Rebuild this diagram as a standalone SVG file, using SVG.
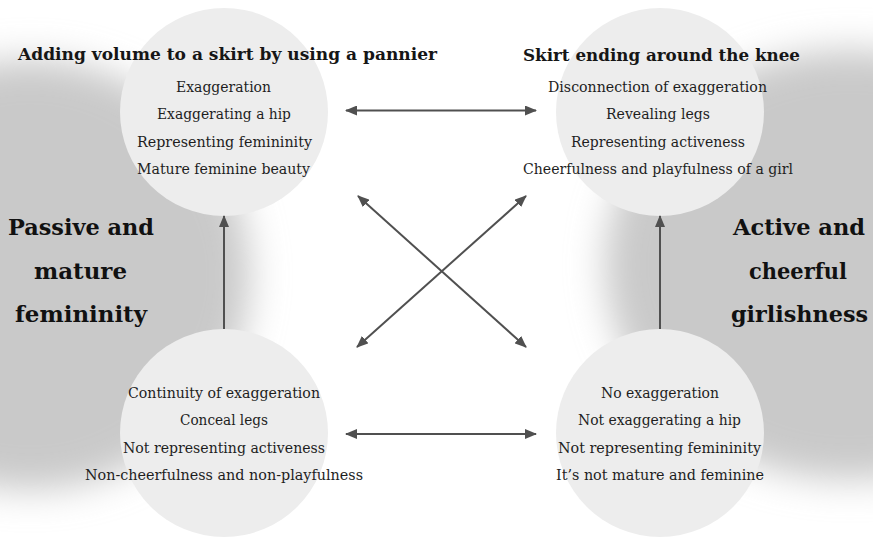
<svg xmlns="http://www.w3.org/2000/svg" width="873" height="537" viewBox="0 0 873 537">
<defs>
<filter id="soft" x="-50%" y="-50%" width="200%" height="200%"><feGaussianBlur stdDeviation="18"/></filter>
<marker id="ah" viewBox="0 0 12 10" refX="11" refY="5" markerWidth="12" markerHeight="10" markerUnits="userSpaceOnUse" orient="auto-start-reverse"><path d="M0,0 L12,5 L0,10 z" fill="#505050"/></marker>
<style>
.c{fill:#ededed}
.t{font-family:"DejaVu Serif","Liberation Serif",serif;font-size:15px;fill:#1e1e1e;text-anchor:middle}
.h{font-family:"DejaVu Serif","Liberation Serif",serif;font-size:16px;font-weight:bold;fill:#161616;text-anchor:middle}
.s{font-family:"DejaVu Serif","Liberation Serif",serif;font-size:23px;font-weight:bold;fill:#111;text-anchor:middle}
.a{stroke:#505050;stroke-width:2;fill:none}
</style>
</defs>
<rect width="873" height="537" fill="#ffffff"/>
<g id="bg">
<ellipse cx="30" cy="275" rx="220" ry="215" fill="#c9c9c9" filter="url(#soft)"/>
<ellipse cx="850" cy="265" rx="245" ry="215" fill="#c9c9c9" filter="url(#soft)"/>
</g>
<g id="label-left">
<text class="s" x="81" y="235" textLength="146" lengthAdjust="spacingAndGlyphs">Passive and</text>
<text class="s" x="80.5" y="279" textLength="93" lengthAdjust="spacingAndGlyphs">mature</text>
<text class="s" x="81" y="322" textLength="132" lengthAdjust="spacingAndGlyphs">femininity</text>
</g>
<g id="label-right">
<text class="s" x="799" y="235" textLength="132" lengthAdjust="spacingAndGlyphs">Active and</text>
<text class="s" x="798" y="279" textLength="98" lengthAdjust="spacingAndGlyphs">cheerful</text>
<text class="s" x="799.5" y="322" textLength="137" lengthAdjust="spacingAndGlyphs">girlishness</text>
</g>
<g id="node-tl">
<circle class="c" cx="224" cy="112" r="104"/>
<text class="h" x="227.5" y="60" textLength="419" lengthAdjust="spacingAndGlyphs">Adding volume to a skirt by using a pannier</text>
<text class="t" x="223.5" y="92" textLength="95" lengthAdjust="spacingAndGlyphs">Exaggeration</text>
<text class="t" x="224" y="119.3" textLength="134" lengthAdjust="spacingAndGlyphs">Exaggerating a hip</text>
<text class="t" x="224.5" y="146.6" textLength="175" lengthAdjust="spacingAndGlyphs">Representing femininity</text>
<text class="t" x="223.5" y="174" textLength="173" lengthAdjust="spacingAndGlyphs">Mature feminine beauty</text>
</g>
<g id="node-tr">
<circle class="c" cx="660" cy="112" r="104"/>
<text class="h" x="661.5" y="61" textLength="277" lengthAdjust="spacingAndGlyphs">Skirt ending around the knee</text>
<text class="t" x="657.5" y="92" textLength="219" lengthAdjust="spacingAndGlyphs">Disconnection of exaggeration</text>
<text class="t" x="658" y="119.3" textLength="104" lengthAdjust="spacingAndGlyphs">Revealing legs</text>
<text class="t" x="658" y="146.6" textLength="174" lengthAdjust="spacingAndGlyphs">Representing activeness</text>
<text class="t" x="658" y="174" textLength="270" lengthAdjust="spacingAndGlyphs">Cheerfulness and playfulness of a girl</text>
</g>
<g id="node-bl">
<circle class="c" cx="224" cy="433" r="104"/>
<text class="t" x="224" y="398" textLength="192" lengthAdjust="spacingAndGlyphs">Continuity of exaggeration</text>
<text class="t" x="224" y="425.3" textLength="88" lengthAdjust="spacingAndGlyphs">Conceal legs</text>
<text class="t" x="224" y="452.6" textLength="202" lengthAdjust="spacingAndGlyphs">Not representing activeness</text>
<text class="t" x="224" y="480" textLength="278" lengthAdjust="spacingAndGlyphs">Non-cheerfulness and non-playfulness</text>
</g>
<g id="node-br">
<circle class="c" cx="660" cy="433" r="104"/>
<text class="t" x="660" y="398" textLength="118" lengthAdjust="spacingAndGlyphs">No exaggeration</text>
<text class="t" x="659.5" y="425.3" textLength="163" lengthAdjust="spacingAndGlyphs">Not exaggerating a hip</text>
<text class="t" x="659.5" y="452.6" textLength="203" lengthAdjust="spacingAndGlyphs">Not representing femininity</text>
<text class="t" x="660" y="480" textLength="208" lengthAdjust="spacingAndGlyphs">It’s not mature and feminine</text>
</g>
<g id="connectors">
<line class="a" x1="346" y1="110.5" x2="536" y2="110.5" marker-start="url(#ah)" marker-end="url(#ah)"/>
<line class="a" x1="346" y1="434" x2="536" y2="434" marker-start="url(#ah)" marker-end="url(#ah)"/>
<line class="a" x1="224" y1="329" x2="224" y2="216" marker-end="url(#ah)"/>
<line class="a" x1="660" y1="329" x2="660" y2="216" marker-end="url(#ah)"/>
<line class="a" x1="358" y1="196" x2="526" y2="347" marker-start="url(#ah)" marker-end="url(#ah)"/>
<line class="a" x1="526" y1="196" x2="357" y2="347" marker-start="url(#ah)" marker-end="url(#ah)"/>
</g>
</svg>
